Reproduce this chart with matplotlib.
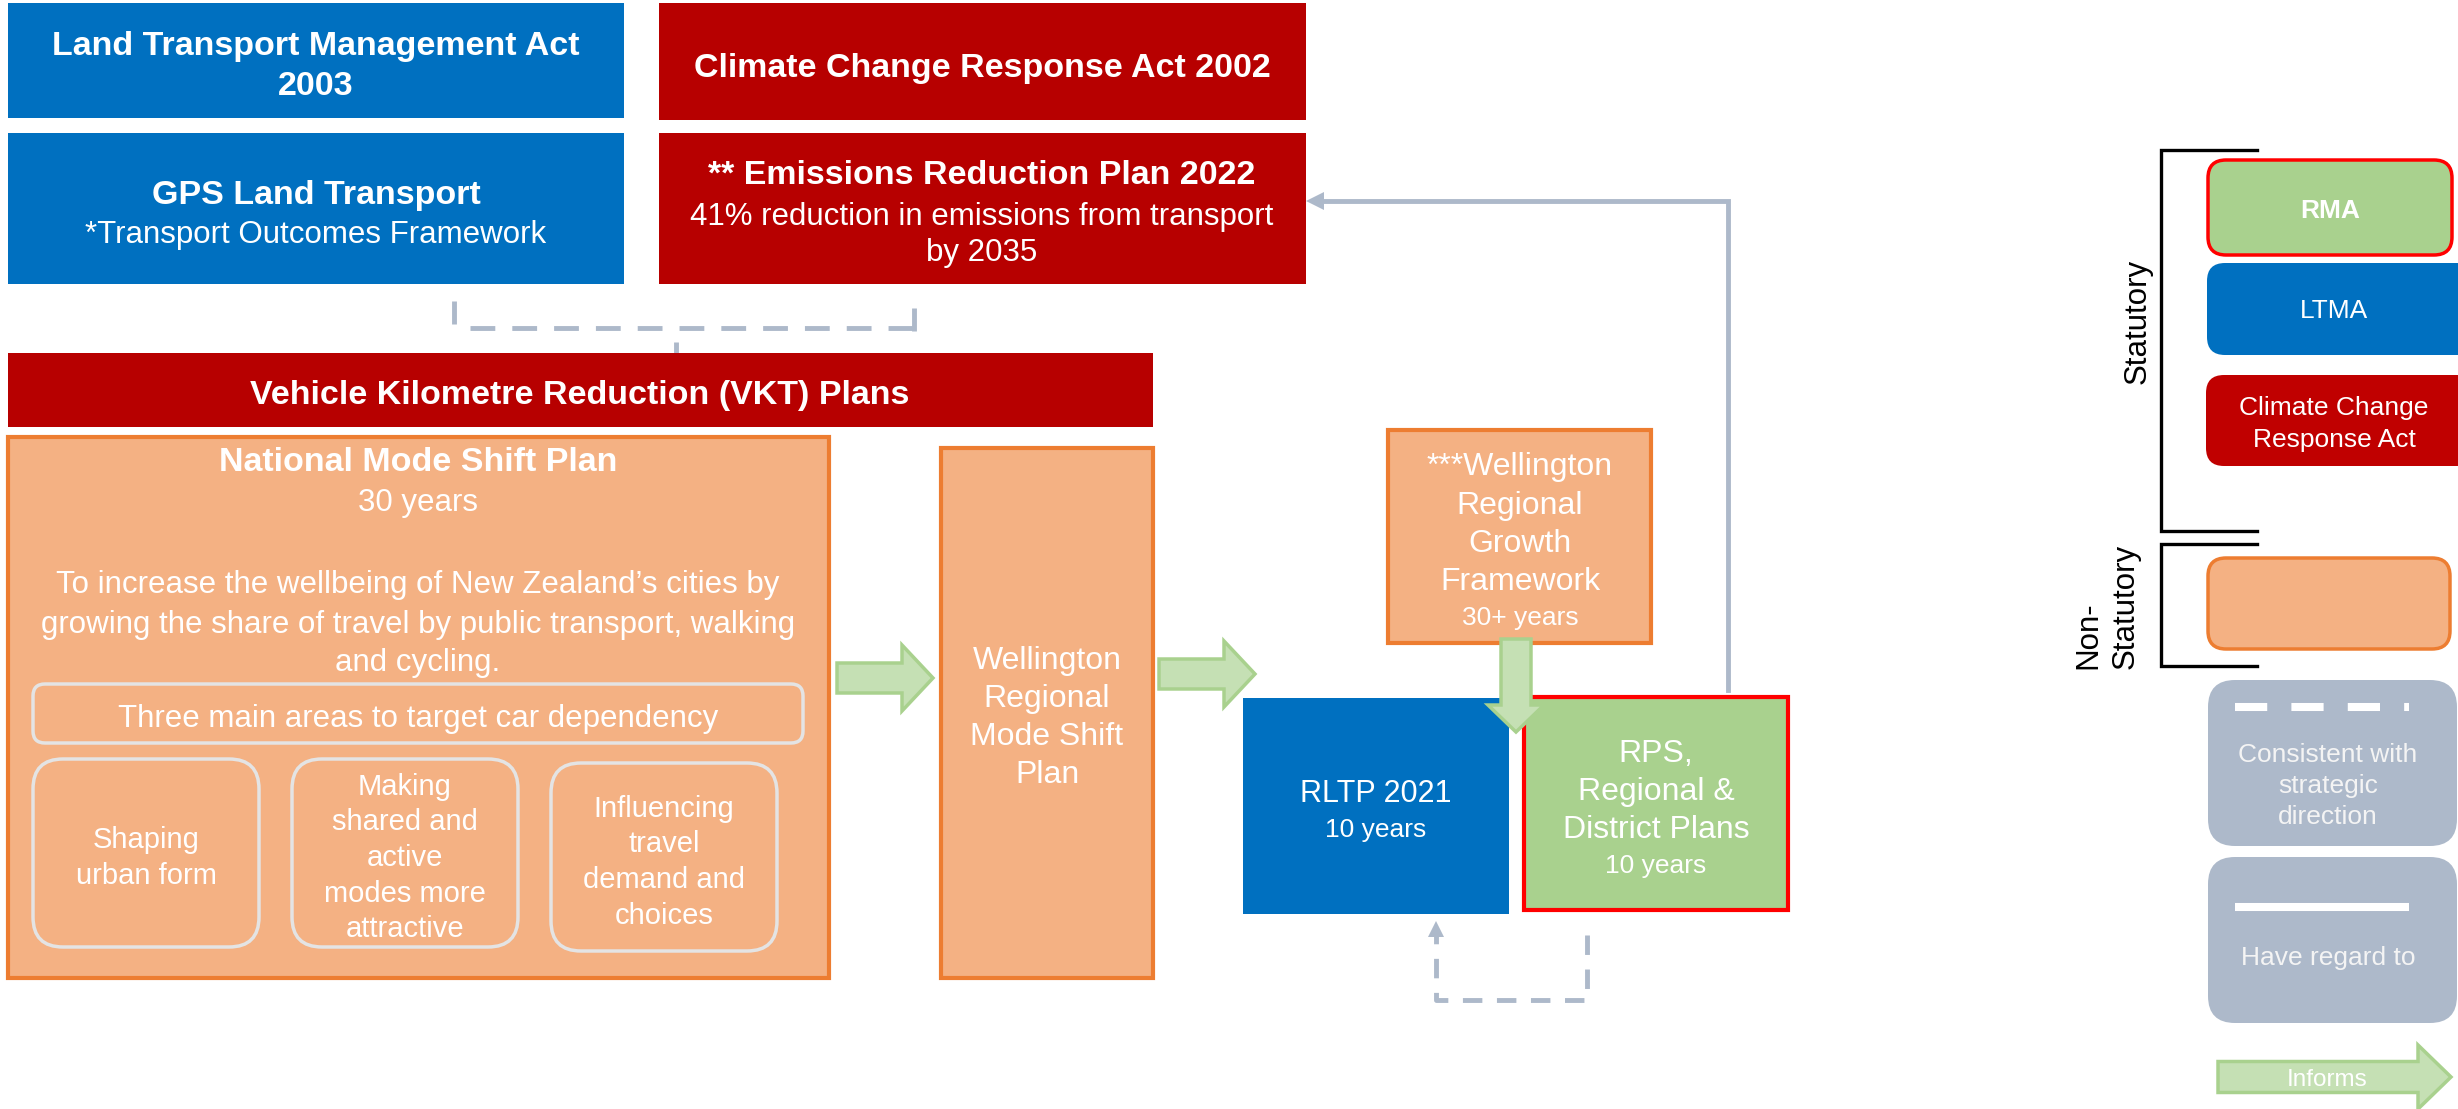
import matplotlib.pyplot as plt
from matplotlib.patches import Rectangle, FancyBboxPatch, Polygon

plt.rcParams['font.family'] = ['Liberation Sans', 'DejaVu Sans']

# colours
BLUE = '#0070C0'
RED = '#B70000'
RED_LEGEND = '#C00000'
ORANGE = '#F4B183'
ORANGE_EDGE = '#ED7D31'
GREEN = '#A9D18E'
ARROW_FILL = '#C5E0B4'
GRAY = '#ADB9CA'

# text content
ltma_lines = ['Land Transport Management Act', '2003']
ccra_title = 'Climate Change Response Act 2002'
gps_title = 'GPS Land Transport'
gps_sub = '*Transport Outcomes Framework'
erp_title = '** Emissions Reduction Plan 2022'
erp_lines = ['41% reduction in emissions from transport', 'by 2035']
vkt_title = 'Vehicle Kilometre Reduction (VKT) Plans'
nmsp_title = 'National Mode Shift Plan'
nmsp_years = '30 years'
nmsp_goal = ["To increase the wellbeing of New Zealand\u2019s cities by",
             'growing the share of travel by public transport, walking',
             'and cycling.']
target_title = 'Three main areas to target car dependency'
areas = [['Shaping', 'urban form'],
         ['Making', 'shared and', 'active', 'modes more', 'attractive'],
         ['Influencing', 'travel', 'demand and', 'choices']]
wrmsp_lines = ['Wellington', 'Regional', 'Mode Shift', 'Plan']
wrgf_lines = ['***Wellington', 'Regional', 'Growth', 'Framework']
wrgf_years = '30+ years'
rltp_title = 'RLTP 2021'
rltp_years = '10 years'
rps_lines = ['RPS,', 'Regional &', 'District Plans']
rps_years = '10 years'
legend_groups = ['Statutory', 'Non-', 'Statutory']
legend_boxes = ['RMA', 'LTMA', 'Climate Change\nResponse Act']
legend_links = [['Consistent with', 'strategic', 'direction'], ['Have regard to'], 'Informs']

W, H = 2458, 1109
fig = plt.figure(figsize=(W / 100, H / 100), dpi=100)
ax = fig.add_axes([0, 0, 1, 1])
ax.set_xlim(0, W)
ax.set_ylim(H, 0)
ax.axis('off')


def box(x0, y0, x1, y1, fc, ec='none', lw=0, r=0, z=2):
    if r:
        p = FancyBboxPatch((x0, y0), x1 - x0, y1 - y0, boxstyle=f'round,pad=0,rounding_size={r}',
                           fc=fc, ec=ec, lw=lw, zorder=z)
    else:
        p = Rectangle((x0, y0), x1 - x0, y1 - y0, fc=fc, ec=ec, lw=lw, zorder=z)
    ax.add_patch(p)


def stack(x, y0, step, lines, size, weight='normal', color='white', z=5):
    for i, line in enumerate(lines):
        ax.text(x, y0 + i * step, line, ha='center', va='center_baseline', fontsize=size,
                fontweight=weight, color=color, zorder=z)


def green_arrow(x0, x1, yc, shaft, head, head_len, vertical=False, z=6):
    pts = [(x0, yc - shaft), (x1 - head_len, yc - shaft), (x1 - head_len, yc - head), (x1, yc),
           (x1 - head_len, yc + head), (x1 - head_len, yc + shaft), (x0, yc + shaft)]
    if vertical:
        pts = [(b, a) for a, b in pts]
    ax.add_patch(Polygon(pts, closed=True, fc=ARROW_FILL, ec=GREEN, lw=2.5, zorder=z))


# top acts
box(8, 3, 624, 118, BLUE)
stack(316, 43, 40, ltma_lines, 24.5, 'bold')
box(659, 3, 1306, 120, RED)
stack(982, 65, 0, [ccra_title], 24.5, 'bold')
box(8, 133, 624, 284, BLUE)
stack(316, 192, 0, [gps_title], 24.5, 'bold')
stack(316, 231, 0, [gps_sub], 22.5)
box(659, 133, 1306, 284, RED)
stack(982, 172, 0, [erp_title], 24.5, 'bold')
stack(982, 213, 37, erp_lines, 22.5)

# dashed link to VKT
solid_kw = dict(color=GRAY, lw=3.5, solid_capstyle='butt', zorder=1)
ax.plot([454, 454], [301, 324], **solid_kw)
ax.plot([914, 914], [308, 331], **solid_kw)
ax.plot([676, 676], [342, 353], **solid_kw)
ax.plot([470, 914], [328, 328], color=GRAY, lw=3.5, dashes=(5.1, 3.5), dash_capstyle='butt', zorder=1)

box(8, 353, 1153, 427, RED)
stack(580, 392, 0, [vkt_title], 24.5, 'bold')

# national mode shift plan
box(8, 437, 829, 978, ORANGE, ORANGE_EDGE, 3)
stack(418, 459, 0, [nmsp_title], 24.5, 'bold')
stack(418, 499, 0, [nmsp_years], 22.5)
stack(418, 582, 39, nmsp_goal, 22.5)
box(33, 684, 803, 743, 'none', '#E4E4E4', 2.5, r=12, z=3)
stack(418, 715, 0, [target_title], 22.5)
area_boxes = [(33, 759, 259, 947), (292, 759, 518, 947), (551, 763, 777, 951)]
area_y0 = [837, 784, 806]
for (x0, y0, x1, y1), lines, ly in zip(area_boxes, areas, area_y0):
    box(x0, y0, x1, y1, 'none', '#E4E4E4', 2.5, r=30, z=3)
    stack((x0 + x1) / 2, ly, 35.5, lines, 21)

green_arrow(837, 933, 678, 15, 33, 31)

# wellington regional mode shift plan
box(941, 448, 1153, 978, ORANGE, ORANGE_EDGE, 3)
stack(1047, 657, 38.3, wrmsp_lines, 23)

green_arrow(1159, 1255, 674, 15, 33, 31)

# wellington regional growth framework
box(1388, 430, 1651, 643, ORANGE, ORANGE_EDGE, 3)
stack(1520, 464, 38.3, wrgf_lines, 23)
stack(1520, 615, 0, [wrgf_years], 19)

# RLTP and RPS
box(1243, 698, 1509, 914, BLUE)
stack(1376, 791, 0, [rltp_title], 22)
stack(1376, 827, 0, [rltp_years], 19)
box(1524, 697, 1788, 910, GREEN, '#FF0000', 3)
stack(1656, 750, 38.5, rps_lines, 23)
stack(1656, 863, 0, [rps_years], 19)

green_arrow(639, 732, 1516, 15, 28, 27, vertical=True)

# have-regard-to link back to ERP
ax.plot([1728, 1728, 1322], [690, 201, 201], color=GRAY, lw=3.5, solid_joinstyle='miter', zorder=1)
ax.add_patch(Polygon([(1306, 201), (1324, 192), (1324, 210)], closed=True, fc=GRAY, ec='none', zorder=1))

# consistent-with link between RPS and RLTP
ax.plot([1587, 1587, 1436, 1436], [935, 1000, 1000, 935],
        color=GRAY, lw=3.5, dashes=(4, 3), dash_capstyle='butt', zorder=1)
ax.add_patch(Polygon([(1436, 921), (1428, 937), (1444, 937)], closed=True, fc=GRAY, ec='none', zorder=1))

# legend brackets
blk = dict(color='black', lw=2.4, solid_joinstyle='miter', zorder=2)
ax.plot([2257, 2161, 2161, 2257], [150, 150, 531, 531], **blk)
ax.plot([2257, 2161, 2161, 2257], [544, 544, 666, 666], **blk)
ax.text(2138, 321, legend_groups[0], rotation=90, ha='center', va='center', fontsize=22.5, color='black')
ax.text(2088, 669, legend_groups[1], rotation=90, ha='center', va='bottom', fontsize=22.5, color='black')
ax.text(2126, 669, legend_groups[2], rotation=90, ha='center', va='bottom', fontsize=22.5, color='black')

# legend boxes
box(2208, 160, 2452, 255, GREEN, '#FF0000', 2.5, r=18)
stack(2330, 208, 0, [legend_boxes[0]], 19, 'bold')
box(2207, 263, 2475, 355, BLUE, r=18)
stack(2334, 309, 0, [legend_boxes[1]], 19)
box(2206, 375, 2475, 466, RED_LEGEND, r=18)
stack(2334, 406, 32, legend_boxes[2].split('\n'), 19)
box(2208, 558, 2450, 649, ORANGE, ORANGE_EDGE, 2.5, r=18)

box(2208, 680, 2457, 846, GRAY, r=27)
ax.plot([2235, 2409], [707, 707], color='white', lw=5.8, dashes=(4, 3), dash_capstyle='butt', zorder=4)
stack(2328, 752, 31.5, legend_links[0], 19, color='#F4F4F4')
box(2208, 857, 2457, 1023, GRAY, r=27)
ax.plot([2235, 2409], [907, 907], color='white', lw=5.8, solid_capstyle='butt', zorder=4)
stack(2328, 956, 0, legend_links[1], 19, color='#F4F4F4')

green_arrow(2218, 2451, 1077, 15.5, 32, 33)
stack(2327, 1077, 0, [legend_links[2]], 17.5, color='white', z=7)

fig.savefig('out.png', dpi=100)
